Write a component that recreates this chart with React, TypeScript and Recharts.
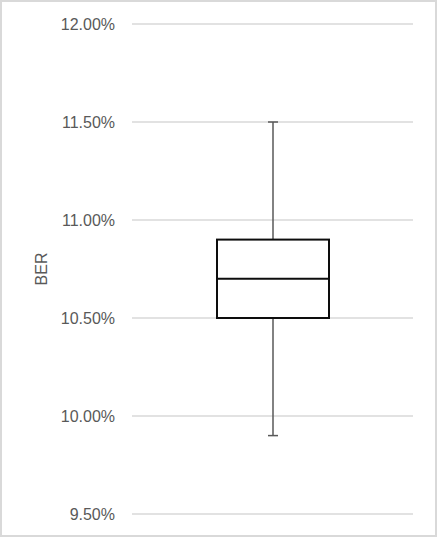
import { ComposedChart, Bar, XAxis, YAxis, CartesianGrid, Label } from "recharts";

const categories = ["BER"];
const lowValues = [9.9];
const q1Values = [10.5];
const medianValues = [10.7];
const q3Values = [10.9];
const highValues = [11.5];
const yTicks = [9.5, 10, 10.5, 11, 11.5, 12];

const data = categories.map((name, i) => ({
  name,
  low: lowValues[i],
  q1: q1Values[i],
  median: medianValues[i],
  q3: q3Values[i],
  high: highValues[i],
  box: [q1Values[i], q3Values[i]],
}));

const fontFamily = "'Liberation Sans', Arial, sans-serif";

// draws box + whiskers; scale derived from the box rect recharts hands us
function BoxShape(props: any) {
  const { x, y, width, height, payload } = props;
  const k = height / (payload.q3 - payload.q1);
  const toY = (v: number) => y + (payload.q3 - v) * k;
  const cx = x + width / 2;
  const cap = 5;
  return (
    <g>
      <line x1={cx} x2={cx} y1={toY(payload.high)} y2={toY(payload.q3)} stroke="#595959" strokeWidth={1.5} />
      <line x1={cx - cap} x2={cx + cap} y1={toY(payload.high)} y2={toY(payload.high)} stroke="#595959" strokeWidth={1.5} />
      <line x1={cx} x2={cx} y1={toY(payload.q1)} y2={toY(payload.low)} stroke="#595959" strokeWidth={1.5} />
      <line x1={cx - cap} x2={cx + cap} y1={toY(payload.low)} y2={toY(payload.low)} stroke="#595959" strokeWidth={1.5} />
      <rect x={x} y={y} width={width} height={height} fill="#ffffff" stroke="#0d0d0d" strokeWidth={2} />
      <line x1={x} x2={x + width} y1={toY(payload.median)} y2={toY(payload.median)} stroke="#0d0d0d" strokeWidth={2} />
    </g>
  );
}

export default function App() {
  return (
    <div
      style={{
        position: "absolute",
        top: 0,
        left: 0,
        width: 437,
        height: 537,
        boxSizing: "border-box",
        border: "2px solid #d9d9d9",
        background: "#ffffff",
      }}
    >
      <ComposedChart
        width={433}
        height={533}
        data={data}
        margin={{ top: 22, right: 22, bottom: 21, left: 0 }}
      >
        <CartesianGrid vertical={false} stroke="#d9d9d9" strokeWidth={1.5} />
        <XAxis dataKey="name" hide />
        <YAxis
          type="number"
          domain={[9.5, 12]}
          ticks={yTicks}
          width={130}
          axisLine={false}
          tickLine={false}
          tickSize={0}
          tickMargin={17}
          tickFormatter={(v: number) => `${v.toFixed(2)}%`}
          tick={{ fill: "#595959", fontSize: 16, fontFamily }}
        >
          <Label
            value="BER"
            angle={-90}
            position="insideLeft"
            offset={39}
            style={{ fill: "#595959", fontSize: 16, fontFamily, textAnchor: "middle" }}
          />
        </YAxis>
        <Bar dataKey="box" barSize={112} shape={<BoxShape />} isAnimationActive={false} />
      </ComposedChart>
    </div>
  );
}
